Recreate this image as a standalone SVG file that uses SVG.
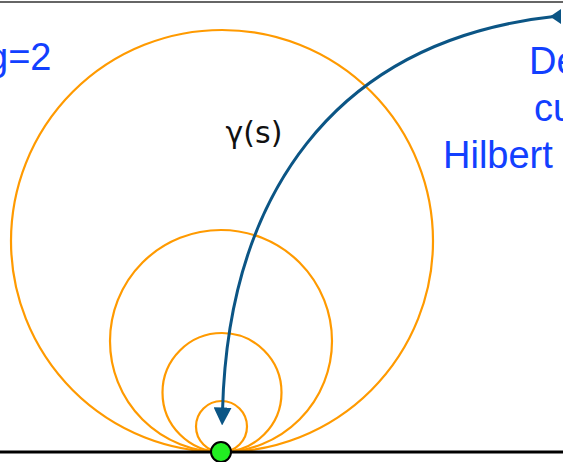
<svg xmlns="http://www.w3.org/2000/svg" width="563" height="462" viewBox="0 0 563 462">
<style>
.c{fill:none;stroke:#ff9a00;stroke-width:2.2}
.t{font-family:"Liberation Sans",Arial,sans-serif;font-size:38px;fill:#1240ff}
.lbl{font-family:"DejaVu Sans","Noto Sans",sans-serif;font-size:30px;fill:#111}
</style>
<defs>
<marker id="ah" viewBox="0 0 10 10" refX="2" refY="5" markerWidth="6" markerHeight="6" orient="auto" markerUnits="strokeWidth">
<path d="M0,0 L10,5 L0,10 z" fill="#0b5585"/>
</marker>
</defs>
<rect width="563" height="462" fill="#fff"/>
<line x1="0" y1="2" x2="563" y2="2" stroke="#333" stroke-width="1.5"/>
<g id="labels">
<text class="t" x="-13" y="70" font-size="40">g=2</text>
<text class="t" x="529" y="74">De</text>
<text class="t" x="534" y="121">cu</text>
<text class="t" x="443" y="168">Hilbert</text>
<text class="lbl" x="254" y="143" text-anchor="middle">γ(s)</text>
</g>
<g id="circles">
<circle id="c1" class="c" cx="222" cy="241" r="211"/>
<circle id="c2" class="c" cx="221" cy="341" r="111"/>
<circle id="c3" class="c" cx="222" cy="392.5" r="59.5"/>
<circle id="c4" class="c" cx="221.5" cy="426.5" r="25.5"/>
</g>
<line id="baseline" x1="0" y1="452" x2="563" y2="452" stroke="#000" stroke-width="3"/>
<g id="connectors">
<path d="M558 16 C330 40 228 200 222.5 411" fill="none" stroke="#0b5585" stroke-width="3" marker-end="url(#ah)"/>
<polygon points="550,16.5 561,9 561,24" fill="#0b5585"/>
</g>
<g id="point">
<circle cx="221" cy="452" r="10" fill="#22ee22" stroke="#000" stroke-width="2"/>
</g>
</svg>
